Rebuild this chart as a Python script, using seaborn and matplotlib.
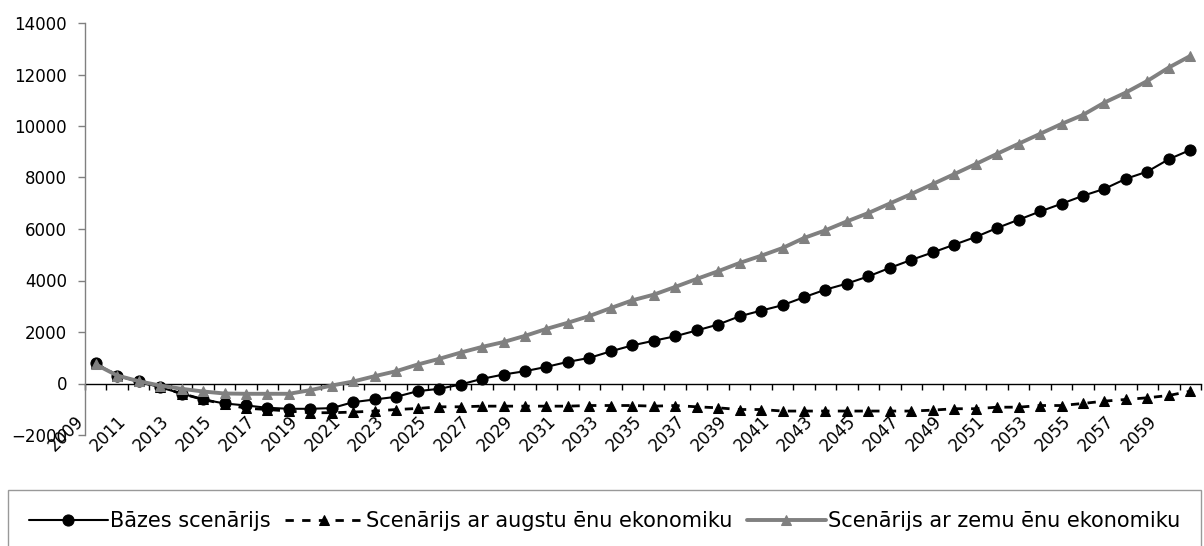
import numpy as np
import pandas as pd
import matplotlib
matplotlib.use("Agg")
import matplotlib.pyplot as plt
import matplotlib.transforms as mtransforms
import seaborn as sns

years = list(range(2009, 2061))

base = [780, 310, 80, -150, -390, -620, -775, -853, -943, -982,
        -982, -956, -724, -620, -517, -297, -207, -39, 181, 349,
        478, 646, 840, 995, 1250, 1480, 1660, 1835, 2060, 2290,
        2610, 2830, 3040, 3350, 3645, 3880, 4160, 4490, 4800, 5090,
        5390, 5690, 6040, 6360, 6680, 6980, 7290, 7560, 7950, 8230,
        8710, 9070]

high = [780, 310, 80, -150, -390, -620, -800, -960, -1010, -1070,
        -1135, -1135, -1110, -1070, -1010, -970, -905, -905, -880, -880,
        -880, -880, -880, -855, -855, -855, -880, -855, -905, -945,
        -1010, -1010, -1070, -1070, -1070, -1070, -1070, -1070, -1070, -1035,
        -980, -980, -920, -920, -855, -855, -775, -685, -620, -555,
        -465, -300]

low = [740, 310, 90, -80, -206, -310, -388, -400, -400, -400,
       -258, -78, 78, 285, 478, 737, 957, 1200, 1420, 1610,
       1850, 2120, 2360, 2620, 2930, 3230, 3450, 3750, 4060, 4360,
       4680, 4960, 5260, 5650, 5950, 6295, 6620, 6990, 7360, 7745,
       8130, 8520, 8920, 9310, 9695, 10080, 10430, 10910, 11300, 11750,
       12270, 12720]

labels = ["Bāzes scenārijs",
          "Scenārijs ar augstu ēnu ekonomiku",
          "Scenārijs ar zemu ēnu ekonomiku"]

sns.set_style("white")
plt.rcParams["font.family"] = ["DejaVu Sans"]
plt.rcParams["text.color"] = "black"

df = pd.DataFrame({"pos": np.arange(len(years)), "year": years,
                   "base": base, "high": high, "low": low})

fig = plt.figure(figsize=(12.04, 5.46), dpi=100)
ax = fig.add_axes([85 / 1204, 1 - 435 / 546, 1116 / 1204, 412 / 546])

grey = "#808080"
sns.lineplot(data=df, x="pos", y="base", ax=ax, color="black", lw=1.5,
             marker="o", markersize=8, markeredgecolor="black", label=labels[0])
sns.lineplot(data=df, x="pos", y="high", ax=ax, color="black", lw=2,
             linestyle=(0, (3, 3)), marker="^", markersize=7,
             markeredgecolor="black", label=labels[1])
sns.lineplot(data=df, x="pos", y="low", ax=ax, color=grey, lw=2.8,
             marker="^", markersize=7, markeredgecolor=grey, label=labels[2])

handles, lbls = ax.get_legend_handles_labels()
if ax.get_legend() is not None:
    ax.get_legend().remove()

ymin, ymax = -2000, 14000
ax.set_ylim(ymin, ymax)
ax.set_yticks(range(ymin, ymax + 1, 2000))
ax.set_xlim(-0.5, len(years) - 0.5)
ax.set_xlabel("")
ax.set_ylabel("")

for s in ["top", "right", "bottom"]:
    ax.spines[s].set_visible(False)
ax.spines["left"].set_color(grey)
ax.spines["left"].set_linewidth(1)

ax.tick_params(axis="y", direction="out", length=5, width=1, color=grey,
               labelcolor="black", labelsize=12, pad=8, left=True)
ax.set_xticks(np.arange(0, len(years), 2))
ax.set_xticklabels(years[::2], rotation=45, ha="right", va="center",
                   rotation_mode="anchor")
ax.tick_params(axis="x", length=0, pad=-12, labelsize=12, labelcolor="black")

# category axis crossing at zero, with tick marks between categories
zero_frac = (0 - ymin) / (ymax - ymin)
sec = ax.secondary_xaxis(zero_frac)
sec.set_xticks(np.arange(-0.5, len(years), 1))
sec.tick_params(length=4, width=1, direction="out", color="black",
                labelbottom=False, labeltop=False)
for s in sec.spines.values():
    s.set_color("black")
    s.set_linewidth(1)

offset = mtransforms.ScaledTranslation(-15 / 100, 0, fig.dpi_scale_trans)
for lbl in ax.get_xticklabels():
    lbl.set_transform(lbl.get_transform() + offset)

leg_y = 1 - 521 / 546
leg = fig.legend(handles, lbls, loc="center left",
                 bbox_to_anchor=(8 / 1204, leg_y - 0.001, 1193 / 1204, 0.002),
                 mode="expand", ncol=3, frameon=True, fancybox=False,
                 edgecolor=grey, borderpad=1.0, handlelength=3.8,
                 handletextpad=0.1, fontsize=15, borderaxespad=0)
leg.get_frame().set_linewidth(1)

fig.savefig("out.png", dpi=100)
